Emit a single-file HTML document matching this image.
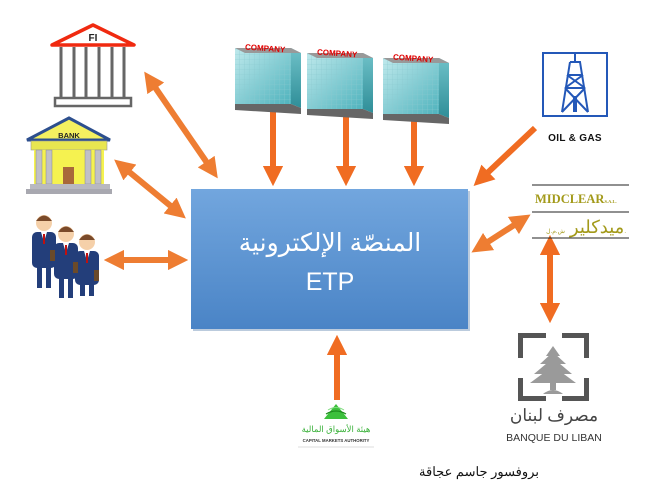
<!DOCTYPE html>
<html><head><meta charset="utf-8">
<style>
html,body{margin:0;padding:0;background:#fff;}
svg{display:block;}
text{font-family:"Liberation Sans","Noto Sans CJK SC",sans-serif;}
text.serif{font-family:"Liberation Serif","Noto Serif CJK SC",serif;}
</style></head>
<body>
<svg width="656" height="489" viewBox="0 0 656 489" xmlns="http://www.w3.org/2000/svg">
<defs>
<linearGradient id="box" x1="0" y1="0" x2="0" y2="1">
<stop offset="0" stop-color="#72a6de"/><stop offset="1" stop-color="#4a84c6"/></linearGradient>
<linearGradient id="bld" x1="0" y1="0" x2="1" y2="1">
<stop offset="0" stop-color="#bfe9ec"/><stop offset="1" stop-color="#4fb3bd"/></linearGradient>
<linearGradient id="bside" x1="0" y1="0" x2="0" y2="1">
<stop offset="0" stop-color="#6fc1c8"/><stop offset="1" stop-color="#2f8e98"/></linearGradient>
<pattern id="grid" width="5" height="5" patternUnits="userSpaceOnUse">
<path d="M5 0V5M0 5H5" stroke="#8cc9cf" stroke-width="0.6" fill="none"/></pattern>
<marker id="ah" viewBox="0 0 10 10" refX="5" refY="5" markerWidth="3.4" markerHeight="3.4" orient="auto-start-reverse">
<path d="M0 0L10 5L0 10z" fill="#f06c22"/></marker>
<marker id="ah2" viewBox="0 0 10 10" refX="5" refY="5" markerWidth="3.4" markerHeight="3.4" orient="auto-start-reverse">
<path d="M0 0L10 5L0 10z" fill="#ee7d32"/></marker>
</defs>

<rect x="193" y="191" width="277" height="140" fill="#3d6a9e" opacity="0.35"/>
<rect x="191" y="189" width="277" height="140" fill="url(#box)"/>
<text x="330" y="251" text-anchor="middle" fill="#fff" font-size="25">المنصّة الإلكترونية</text>
<text x="330" y="290" text-anchor="middle" fill="#fff" font-size="25">ETP</text>

<g stroke-width="6" fill="none">
<line x1="150" y1="80" x2="212" y2="170" stroke="#ee7d32" marker-start="url(#ah2)" marker-end="url(#ah2)"/>
<line x1="122" y1="166" x2="178" y2="212" stroke="#ee7d32" marker-start="url(#ah2)" marker-end="url(#ah2)"/>
<line x1="114" y1="260" x2="178" y2="260" stroke="#ee7d32" marker-start="url(#ah2)" marker-end="url(#ah2)"/>
<line x1="273" y1="106" x2="273" y2="176" stroke="#f06c22" marker-end="url(#ah)"/>
<line x1="346" y1="110" x2="346" y2="176" stroke="#f06c22" marker-end="url(#ah)"/>
<line x1="414" y1="115" x2="414" y2="176" stroke="#f06c22" marker-end="url(#ah)"/>
<line x1="535" y1="128" x2="481" y2="179" stroke="#f06c22" marker-end="url(#ah)"/>
<line x1="522" y1="220" x2="480" y2="247" stroke="#ee7d32" marker-start="url(#ah2)" marker-end="url(#ah2)"/>
<line x1="550" y1="245" x2="550" y2="313" stroke="#f06c22" marker-start="url(#ah)" marker-end="url(#ah)"/>
<line x1="337" y1="400" x2="337" y2="345" stroke="#f06c22" marker-end="url(#ah)"/>
</g>

<!-- FI -->
<polygon points="93,25 134,45 52,45" fill="#fff" stroke="#f02a10" stroke-width="3.5" stroke-linejoin="round"/>
<text x="93" y="41" text-anchor="middle" font-size="10" font-weight="bold" fill="#222">FI</text>
<g stroke="#666" stroke-width="3">
<line x1="61" y1="47" x2="61" y2="97"/><line x1="74" y1="47" x2="74" y2="97"/>
<line x1="86" y1="47" x2="86" y2="97"/><line x1="99" y1="47" x2="99" y2="97"/>
<line x1="112" y1="47" x2="112" y2="97"/><line x1="124" y1="47" x2="124" y2="97"/>
</g>
<rect x="55" y="98" width="76" height="8" fill="#fff" stroke="#666" stroke-width="2.5"/>

<!-- BANK -->
<polygon points="69,118 110,140 27,140" fill="#f4f060" stroke="#2d4f8e" stroke-width="3"/>
<text x="69" y="138" text-anchor="middle" font-size="7.5" font-weight="bold" fill="#222">BANK</text>
<rect x="31" y="141" width="76" height="9" fill="#e8e650" stroke="#999" stroke-width="0.6"/>
<rect x="34" y="150" width="70" height="35" fill="#f5f250"/>
<g fill="#c0c0c8" stroke="#888" stroke-width="0.5">
<rect x="36" y="150" width="6" height="34"/><rect x="46" y="150" width="6" height="34"/>
<rect x="85" y="150" width="6" height="34"/><rect x="95" y="150" width="6" height="34"/>
</g>
<rect x="63" y="167" width="11" height="17" fill="#a8683a"/>
<rect x="30" y="184" width="80" height="5" fill="#b8b8c0"/>
<rect x="26" y="189" width="86" height="5" fill="#a8a8b0"/>

<!-- people -->
<g>
<g transform="translate(44,232)">
<rect x="-12" y="0" width="24" height="36" rx="5" fill="#233e7a"/>
<rect x="-7" y="36" width="5" height="20" fill="#233e7a"/><rect x="2" y="36" width="5" height="20" fill="#233e7a"/>
<polygon points="-3,0 3,0 0,10" fill="#fff"/><line x1="0" y1="2" x2="0" y2="12" stroke="#c01010" stroke-width="2"/>
<circle cx="0" cy="-9" r="8" fill="#f5d0a9"/><path d="M-8,-11 Q0,-22 8,-11 Z" fill="#7a4a2a"/>
</g>
<g transform="translate(66,243)">
<rect x="-12" y="0" width="24" height="36" rx="5" fill="#233e7a"/>
<rect x="-7" y="36" width="5" height="19" fill="#233e7a"/><rect x="2" y="36" width="5" height="19" fill="#233e7a"/>
<polygon points="-3,0 3,0 0,10" fill="#fff"/><line x1="0" y1="2" x2="0" y2="12" stroke="#c01010" stroke-width="2"/>
<circle cx="0" cy="-9" r="8" fill="#f5d0a9"/><path d="M-8,-11 Q0,-22 8,-11 Z" fill="#7a4a2a"/>
</g>
<g transform="translate(87,251)">
<rect x="-12" y="0" width="24" height="34" rx="5" fill="#233e7a"/>
<rect x="-7" y="34" width="5" height="11" fill="#233e7a"/><rect x="2" y="34" width="5" height="11" fill="#233e7a"/>
<polygon points="-3,0 3,0 0,10" fill="#fff"/><line x1="0" y1="2" x2="0" y2="12" stroke="#c01010" stroke-width="2"/>
<circle cx="0" cy="-9" r="8" fill="#f5d0a9"/><path d="M-8,-11 Q0,-22 8,-11 Z" fill="#7a4a2a"/>
</g>
<rect x="50" y="250" width="5" height="11" fill="#6a4a2a"/>
<rect x="73" y="262" width="5" height="11" fill="#6a4a2a"/>
<rect x="94" y="270" width="5" height="11" fill="#6a4a2a"/>
</g>

<!-- companies -->
<g id="c1">
<rect x="235" y="48" width="56" height="56" fill="url(#bld)"/>
<rect x="235" y="48" width="56" height="56" fill="url(#grid)"/>
<polygon points="291,48 301,53 301,108 291,104" fill="url(#bside)"/>
<polygon points="235,48 291,48 301,53 245,53" fill="#999"/>
<polygon points="235,104 291,104 301,108 301,114 235,110" fill="#666"/>
<text x="265" y="51" text-anchor="middle" font-size="8" font-weight="bold" fill="#e00000" transform="rotate(4 265 51)">COMPANY</text>
</g>
<use href="#c1" transform="translate(72,5)"/>
<use href="#c1" transform="translate(148,10)"/>

<!-- oil & gas -->
<rect x="543" y="53" width="64" height="63" fill="#fff" stroke="#2458b8" stroke-width="2"/>
<g stroke="#2458b8" stroke-width="2" fill="none">
<line x1="575" y1="54" x2="575" y2="62"/>
<path d="M570,62 L580,62 L588,112 M570,62 L562,112"/>
<line x1="567" y1="75" x2="583" y2="75"/><line x1="565" y1="88" x2="585" y2="88"/>
<path d="M567,75 L585,88 M583,75 L565,88 M565,88 L588,112 M585,88 L562,112"/>
</g>
<rect x="573" y="96" width="4" height="16" fill="#2458b8"/>
<text x="575" y="141" text-anchor="middle" font-size="10" font-weight="bold" fill="#111" letter-spacing="0.3">OIL &amp; GAS</text>

<!-- midclear -->
<g stroke="#222" stroke-width="1"><line x1="532" y1="185" x2="629" y2="185"/><line x1="532" y1="212" x2="629" y2="212"/><line x1="532" y1="238" x2="629" y2="238"/></g>
<text class="serif" x="535" y="203" font-size="12.5" font-weight="bold" fill="#a39a1a">MIDCLEAR<tspan font-size="4.5">S.A.L.</tspan></text>
<text x="626" y="233" text-anchor="end" font-size="18" fill="#a39a1a">ميدكلير <tspan font-size="6">ش.م.ل.</tspan></text>

<!-- BDL -->
<g fill="#555">
<rect x="518" y="333" width="28" height="5"/><rect x="562" y="333" width="27" height="5"/>
<rect x="518" y="333" width="5" height="25"/><rect x="584" y="333" width="5" height="25"/>
<rect x="518" y="378" width="5" height="23"/><rect x="584" y="378" width="5" height="23"/>
<rect x="518" y="396" width="28" height="5"/><rect x="562" y="396" width="27" height="5"/>
</g>
<g fill="#9a9a9a">
<polygon points="553,346 560,356 546,356"/>
<polygon points="553,352 566,364 540,364"/>
<polygon points="553,358 572,374 534,374"/>
<polygon points="553,366 576,383 530,383"/>
<rect x="550" y="380" width="6" height="10"/>
<path d="M543,394 Q553,386 563,394 Z"/>
</g>
<text class="serif" x="554" y="421" text-anchor="middle" font-size="17" fill="#444">مصرف لبنان</text>
<text x="554" y="441" text-anchor="middle" font-size="10.5" fill="#333">BANQUE DU LIBAN</text>

<!-- CMA -->
<polygon points="336,404 348,419 324,419" fill="#3cc03c"/>
<path d="M326,414 Q336,408 346,414" stroke="#1e8a1e" stroke-width="1.2" fill="none"/>
<path d="M328,410 Q336,405 344,410" stroke="#7ddc7d" stroke-width="1" fill="none"/>
<text x="336" y="432" text-anchor="middle" font-size="8.5" fill="#38b038">هيئة الأسواق المالية</text>
<text x="336" y="442" text-anchor="middle" font-size="4.3" fill="#333" font-weight="bold">CAPITAL MARKETS AUTHORITY</text>
<line x1="298" y1="447" x2="374" y2="447" stroke="#ddd" stroke-width="1"/>

<text x="479" y="476" text-anchor="middle" font-size="13" fill="#111">بروفسور جاسم عجاقة</text>
</svg>
</body></html>
